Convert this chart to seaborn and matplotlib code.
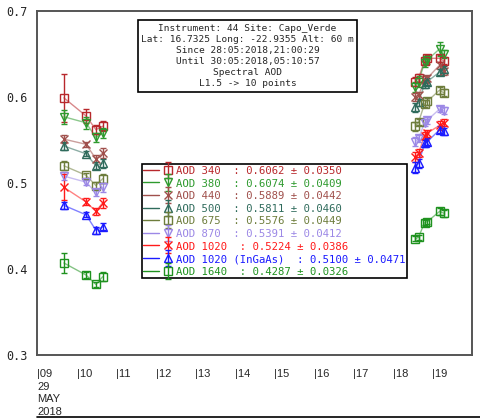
import pandas as pd
import matplotlib.pyplot as plt
import seaborn as sns
from matplotlib.lines import Line2D
from matplotlib.container import ErrorbarContainer
from matplotlib.legend_handler import HandlerTuple, HandlerErrorbar

# %%
# hours of 29 May 2018 (UTC)
times = [9.68, 10.24, 10.49, 10.66, 18.57, 18.65, 18.80, 18.87, 19.18, 19.28]
group = ['am'] * 4 + ['pm'] * 6

channels = ['340', '380', '440', '500', '675', '870', '1020', '1020i', '1640']
aod_340 = [0.599, 0.578, 0.562, 0.566, 0.618, 0.622, 0.642, 0.645, 0.645, 0.642]
aod_380 = [0.577, 0.570, 0.553, 0.558, 0.612, 0.618, 0.640, 0.643, 0.656, 0.650]
aod_440 = [0.551, 0.545, 0.528, 0.535, 0.600, 0.602, 0.620, 0.622, 0.637, 0.630]
aod_500 = [0.543, 0.534, 0.520, 0.523, 0.588, 0.594, 0.615, 0.618, 0.629, 0.632]
aod_675 = [0.520, 0.509, 0.497, 0.505, 0.566, 0.571, 0.592, 0.595, 0.608, 0.605]
aod_870 = [0.508, 0.501, 0.489, 0.495, 0.548, 0.552, 0.570, 0.573, 0.586, 0.584]
aod_1020 = [0.495, 0.478, 0.467, 0.477, 0.530, 0.535, 0.555, 0.558, 0.567, 0.570]
aod_1020i = [0.474, 0.463, 0.445, 0.449, 0.518, 0.523, 0.546, 0.548, 0.562, 0.560]
aod_1640 = [0.407, 0.393, 0.382, 0.391, 0.435, 0.437, 0.454, 0.455, 0.467, 0.465]

err_340 = [0.028, 0.008, 0.005, 0.006, 0.005, 0.005, 0.004, 0.004, 0.004, 0.004]
err_380 = [0.008, 0.007, 0.005, 0.006, 0.006, 0.006, 0.005, 0.005, 0.008, 0.005]
err_440 = [0.005, 0.003, 0.004, 0.006, 0.005, 0.004, 0.004, 0.004, 0.004, 0.004]
err_500 = [0.005, 0.003, 0.004, 0.005, 0.005, 0.004, 0.004, 0.004, 0.004, 0.004]
err_675 = [0.005, 0.003, 0.004, 0.005, 0.005, 0.004, 0.004, 0.004, 0.004, 0.004]
err_870 = [0.005, 0.003, 0.004, 0.005, 0.005, 0.004, 0.004, 0.004, 0.004, 0.004]
err_1020 = [0.015, 0.004, 0.004, 0.006, 0.006, 0.005, 0.004, 0.004, 0.005, 0.004]
err_1020i = [0.004, 0.003, 0.004, 0.004, 0.006, 0.005, 0.004, 0.004, 0.004, 0.004]
err_1640 = [0.012, 0.003, 0.003, 0.005, 0.003, 0.003, 0.003, 0.003, 0.004, 0.004]

values = [aod_340, aod_380, aod_440, aod_500, aod_675, aod_870, aod_1020, aod_1020i, aod_1640]
errors = [err_340, err_380, err_440, err_500, err_675, err_870, err_1020, err_1020i, err_1640]

labels = ['AOD 340  : 0.6062 ± 0.0350',
          'AOD 380  : 0.6074 ± 0.0409',
          'AOD 440  : 0.5889 ± 0.0442',
          'AOD 500  : 0.5811 ± 0.0460',
          'AOD 675  : 0.5576 ± 0.0449',
          'AOD 870  : 0.5391 ± 0.0412',
          'AOD 1020  : 0.5224 ± 0.0386',
          'AOD 1020 (InGaAs)  : 0.5100 ± 0.0471',
          'AOD 1640  : 0.4287 ± 0.0326']

colors = ['#b8282c', '#2e9a2e', '#a0504c', '#2f6b5c', '#6e7d3c',
          '#9c88e6', '#ff1a1a', '#1a1aff', '#1f921f']
markers = ['s', 'v', 'x', '^', 's', 'v', 'x', '^', 's']

info = ('Instrument: 44 Site: Capo_Verde\n'
        'Lat: 16.7325 Long: -22.9355 Alt: 60 m\n'
        'Since 28:05:2018,21:00:29\n'
        'Until 30:05:2018,05:10:57\n'
        'Spectral AOD\n'
        'L1.5 -> 10 points')

hour_ticks = list(range(9, 20))
hour_labels = ['|09\n29\nMAY\n2018'] + ['|%d' % h for h in hour_ticks[1:]]

# %%
sns.set_style('white')
plt.rcParams['font.family'] = ['DejaVu Sans Mono']

fig = plt.figure(figsize=(4.81, 4.19), dpi=100)
ax = fig.add_axes([37 / 481, 64 / 419, 435 / 481, 344 / 419])

handles = []
for ch, v, e, c, m in zip(channels, values, errors, colors, markers):
    df = pd.DataFrame({'t': times, 'aod': v, 'err': e, 'grp': group})
    sns.lineplot(data=df, x='t', y='aod', units='grp', estimator=None, sort=False,
                 color=c, alpha=0.55, lw=1.0, ax=ax, legend=False)
    eb = ax.errorbar(df['t'], df['aod'], yerr=df['err'], fmt=m, color=c, mfc='none',
                     mec=c, ms=5.3, mew=1.0, elinewidth=1.0, capsize=2.2,
                     capthick=1.0, zorder=3)
    handles.append((Line2D([], [], color=c, lw=1.0), eb))

ax.set_xlim(9, 20)
ax.set_ylim(0.3, 0.7)
ax.set_yticks([0.3, 0.4, 0.5, 0.6, 0.7])
ax.set_yticklabels(['0.3', '0.4', '0.5', '0.6', '0.7'], fontsize=8.5)
ax.set_xticks(hour_ticks)
ax.set_xticklabels(hour_labels, fontsize=8, family='Liberation Sans',
                   ha='left', linespacing=1.35)
ax.tick_params(axis='x', length=0, pad=10)
ax.tick_params(axis='y', length=4, width=1, color='#555555', direction='out', pad=3)
ax.set_xlabel('')
ax.set_ylabel('')
for s in ax.spines.values():
    s.set_color('#555555')
    s.set_linewidth(1.4)

ax.text(0.484, 0.963, info, transform=ax.transAxes, ha='center', va='top',
        fontsize=6.8, linespacing=1.3,
        bbox=dict(boxstyle='square,pad=0.35', fc='white', ec='black', lw=1.2))

leg = ax.legend(handles, labels,
                handler_map={tuple: HandlerTuple(ndivide=None),
                             ErrorbarContainer: HandlerErrorbar(yerr_size=0.75)},
                loc='upper left', bbox_to_anchor=(0.241, 0.555), borderaxespad=0,
                fontsize=7.7, handlelength=3.0, handleheight=1.0, handletextpad=0.0,
                labelspacing=0.2, borderpad=0.15, fancybox=False, framealpha=1,
                edgecolor='black', labelcolor=colors)
leg.get_frame().set_linewidth(1.2)

fig.add_artist(Line2D([37 / 481, 1], [2 / 419, 2 / 419], color='black', lw=1.2))

fig.savefig('out.png', dpi=100)
